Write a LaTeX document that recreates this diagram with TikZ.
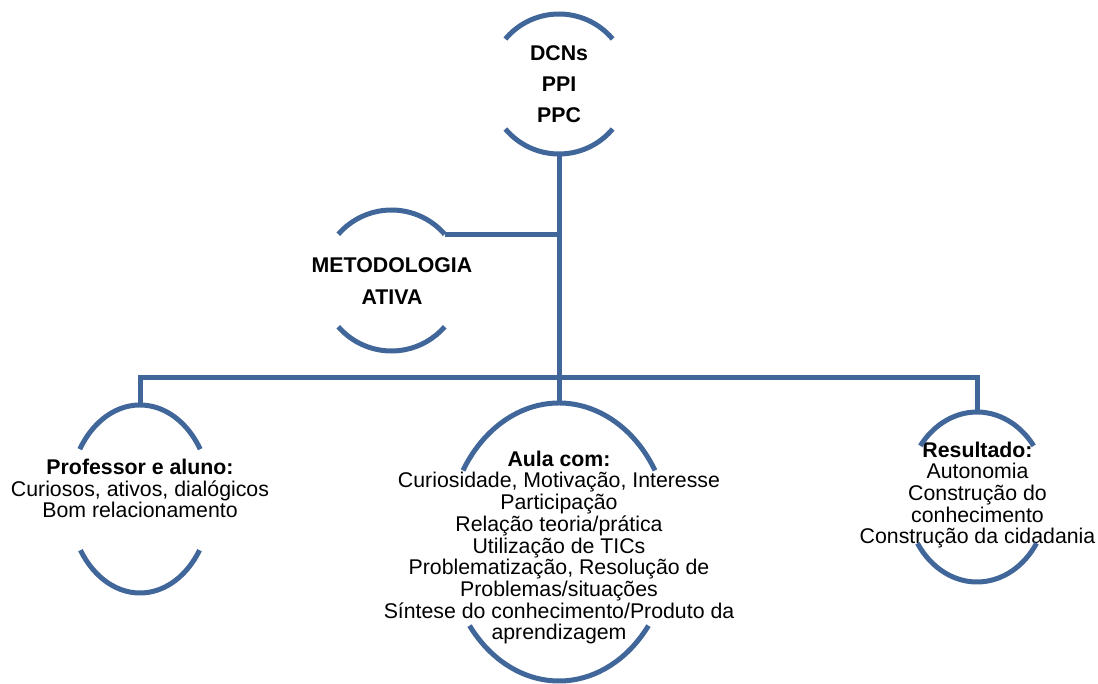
\documentclass[tikz,border=0pt]{standalone}
\usepackage{fontspec}
\setmainfont{Liberation Sans}
\definecolor{treeblue}{RGB}{65,103,154}

% Upper and lower arcs of an oval: centre, x radius, y radius,
% angle of the upper arc's ends, angle of the lower arc's ends
\newcommand{\ovalarcs}[5]{%
  \draw[link] ([shift={(#4:#2pt and #3pt)}]#1)
    arc[start angle=#4, end angle=180-#4, x radius=#2pt, y radius=#3pt];
  \draw[link] ([shift={(180+#5:#2pt and #3pt)}]#1)
    arc[start angle=180+#5, end angle=360-#5, x radius=#2pt, y radius=#3pt];
}

\begin{document}
\begin{tikzpicture}[x=1pt,y=1pt,
    link/.style={draw=treeblue, line width=5pt},
    blocktext/.style={align=center, inner sep=0pt,
      font=\fontsize{21.3}{21.7}\selectfont},
  ]
  \useasboundingbox (0,0) rectangle (1098,-684);

  % oval centres
  \coordinate (c-dcn)  at (559,-84);
  \coordinate (c-met)  at (391.5,-280.5);
  \coordinate (c-prof) at (140,-499);
  \coordinate (c-aula) at (559,-542);
  \coordinate (c-res)  at (977,-497);

  % texts
  \node[blocktext, font=\fontsize{21.3}{21.7}\selectfont\bfseries] (dcn) at (559,-84)
    {DCNs\\[9.6pt] PPI\\[9.6pt] PPC};
  \node[blocktext, font=\fontsize{21.3}{21.7}\selectfont\bfseries] (met) at (392,-281)
    {METODOLOGIA\\[10.3pt] ATIVA};
  \node[blocktext] (prof) at (140,-488.4)
    {\textbf{Professor e aluno:}\\ Curiosos, ativos, dialógicos\\ Bom relacionamento};
  \node[blocktext] (aula) at (559,-547.5)
    {\textbf{Aula com:}\\ Curiosidade, Motivação, Interesse\\ Participação\\
     Relação teoria/prática\\ Utilização de TICs\\ Problematização, Resolução de\\
     Problemas/situações\\ Síntese do conhecimento/Produto da\\ aprendizagem};
  \node[blocktext] (res) at (977.5,-495)
    {\textbf{Resultado:}\\ Autonomia\\ Construção do\\ conhecimento\\ Construção da cidadania};

  % oval arcs
  \ovalarcs{c-dcn}{70}{70}{40}{40}
  \ovalarcs{c-met}{70.5}{70.5}{41}{41}
  \ovalarcs{c-prof}{71}{94}{32}{33}
  \ovalarcs{c-aula}{112}{139}{31}{37}
  \ovalarcs{c-res}{71}{85}{37}{33}

  % connector ends on the arcs
  \coordinate (dcn-s)  at ([yshift=-70pt]c-dcn);
  \coordinate (met-ne) at ([shift={(41:70.5pt and 70.5pt)}]c-met);
  \coordinate (prof-n) at ([yshift=94pt]c-prof);
  \coordinate (aula-n) at ([yshift=139pt]c-aula);
  \coordinate (res-n)  at ([yshift=85pt]c-res);

  % junctions
  \coordinate (trunk-met) at (dcn-s |- met-ne);
  \coordinate (bar-l) at (prof-n |- 0,-378);
  \coordinate (bar-r) at (res-n |- 0,-378);

  % connectors
  \draw[link] (dcn-s) -- (aula-n);
  \draw[link] (met-ne) -- (trunk-met);
  \draw[link] (prof-n) -- (bar-l) -- (bar-r) -- (res-n);
\end{tikzpicture}
\end{document}
